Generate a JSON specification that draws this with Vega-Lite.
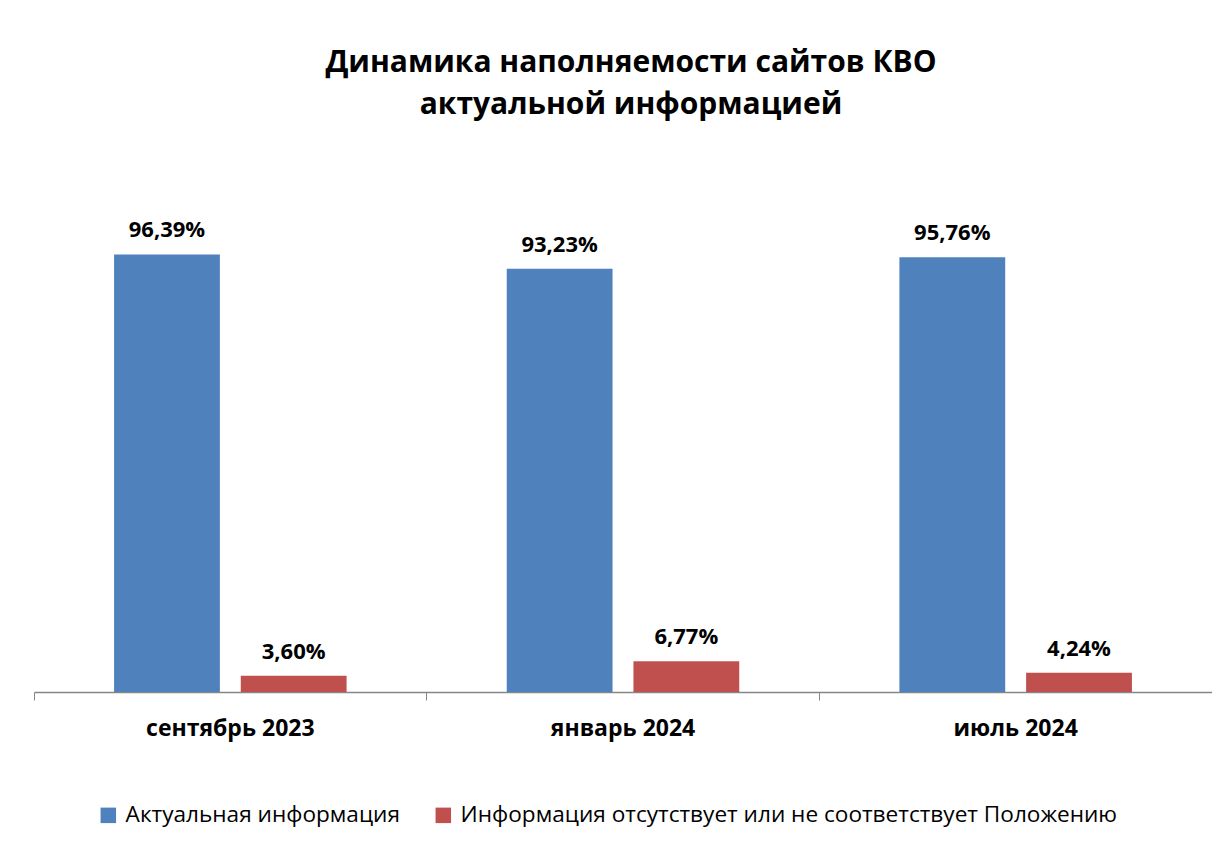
{
  "$schema": "https://vega.github.io/schema/vega-lite/v6.json",
  "autosize": {"type": "none"},
  "width": 1178,
  "height": 454,
  "padding": {"left": 34, "top": 238, "right": 0, "bottom": 167},
  "background": "white",
  "config": {
    "view": {"stroke": null},
    "font": "Open Sans",
    "locale": {"number": {"decimal": ",", "thousands": " ", "grouping": [3], "currency": ["", ""]}}
  },
  "title": {
    "text": ["Динамика наполняемости сайтов КВО", "актуальной информацией"],
    "font": "Open Sans",
    "fontSize": 30,
    "fontWeight": "bold",
    "color": "#000000",
    "lineHeight": 42,
    "anchor": "middle",
    "dx": 8,
    "offset": 99
  },
  "data": {
    "values": [
      {"period": "сентябрь 2023", "series": "Актуальная информация", "value": 0.9639},
      {"period": "сентябрь 2023", "series": "Информация отсутствует или не соответствует Положению", "value": 0.036},
      {"period": "январь 2024", "series": "Актуальная информация", "value": 0.9323},
      {"period": "январь 2024", "series": "Информация отсутствует или не соответствует Положению", "value": 0.0677},
      {"period": "июль 2024", "series": "Актуальная информация", "value": 0.9576},
      {"period": "июль 2024", "series": "Информация отсутствует или не соответствует Положению", "value": 0.0424}
    ]
  },
  "encoding": {
    "x": {
      "field": "period",
      "type": "nominal",
      "sort": ["сентябрь 2023", "январь 2024", "июль 2024"],
      "scale": {"paddingInner": 0, "paddingOuter": 0},
      "axis": {
        "title": null,
        "labelAngle": 0,
        "labelFont": "Open Sans",
        "labelFontSize": 23,
        "labelFontWeight": "bold",
        "labelColor": "#000000",
        "labelPadding": 17,
        "bandPosition": 0,
        "tickSize": 8,
        "tickColor": "#868686",
        "domainColor": "#868686",
        "domainWidth": 1.5
      }
    },
    "xOffset": {
      "field": "series",
      "type": "nominal",
      "sort": ["Актуальная информация", "Информация отсутствует или не соответствует Положению"],
      "scale": {"paddingInner": 0.165, "paddingOuter": 0.632}
    },
    "y": {
      "field": "value",
      "type": "quantitative",
      "scale": {"domain": [0, 1]},
      "axis": null
    }
  },
  "layer": [
    {
      "mark": {"type": "bar"},
      "encoding": {
        "color": {
          "field": "series",
          "type": "nominal",
          "sort": ["Актуальная информация", "Информация отсутствует или не соответствует Положению"],
          "scale": {"range": ["#4F81BD", "#C0504D"]},
          "legend": {
            "title": null,
            "orient": "none",
            "legendX": 63,
            "legendY": 566,
            "direction": "horizontal",
            "symbolType": "square",
            "symbolSize": 240,
            "symbolStrokeWidth": 0,
            "symbolOffset": 0,
            "labelOffset": 6,
            "labelFont": "Open Sans",
            "labelFontSize": 22.6,
            "labelColor": "#000000",
            "labelLimit": 800,
            "columnPadding": 32
          }
        }
      }
    },
    {
      "mark": {"type": "text", "baseline": "bottom", "dy": -12, "font": "Open Sans", "fontSize": 22, "fontWeight": "bold", "color": "#000000"},
      "encoding": {
        "text": {"field": "value", "type": "quantitative", "format": ".2%"}
      }
    }
  ]
}
